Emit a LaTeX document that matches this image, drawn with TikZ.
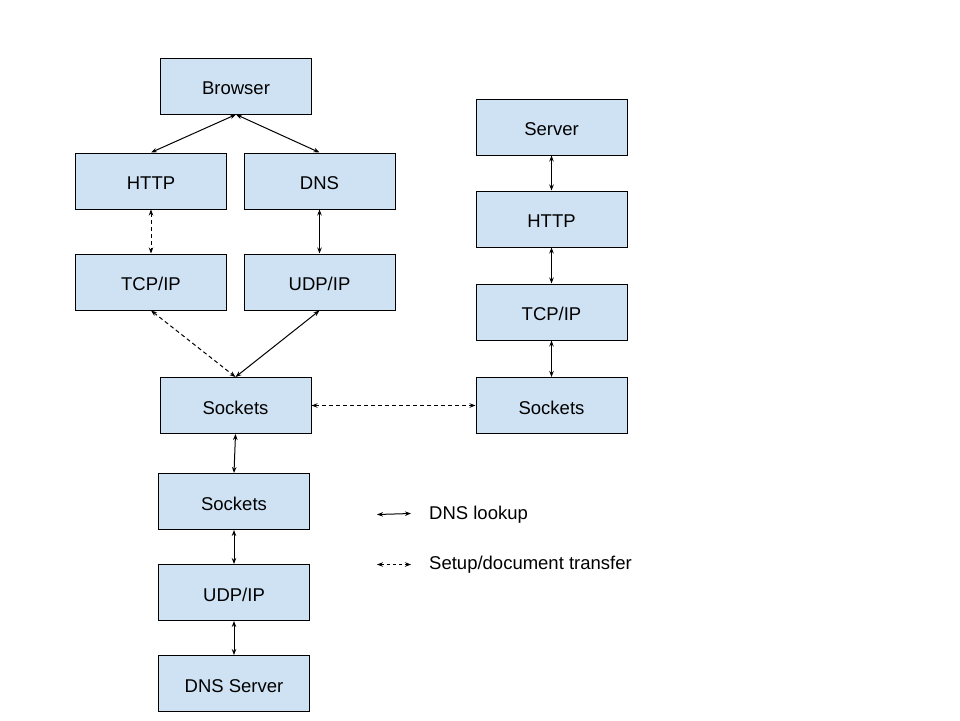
\documentclass[tikz,border=0pt]{standalone}
\usepackage{fontspec}
\setmainfont{Liberation Sans}
\usetikzlibrary{arrows.meta}
\definecolor{boxblue}{HTML}{CFE2F3}
\tikzset{
  layerbox/.style={draw=black, fill=boxblue, line width=1pt, minimum width=151pt, minimum height=56pt, inner sep=0pt, text height=18pt, text depth=1pt, font=\fontsize{18.5}{20}\selectfont},
  link/.style={line width=1pt, {Stealth[length=6pt,width=4.5pt]}-{Stealth[length=6pt,width=4.5pt]}},
  dlink/.style={link, dash pattern=on 4pt off 3pt},
  legtext/.style={anchor=west, inner sep=0pt, font=\fontsize{18.5}{20}\selectfont}
}
\begin{document}
\begin{tikzpicture}[x=1pt,y=-1pt]
\useasboundingbox (0,0) rectangle (960,720);
\node[layerbox] (browser) at (236,86) {Browser};
\node[layerbox] (httpL) at (151,181) {HTTP};
\node[layerbox] (dns) at (319.5,181) {DNS};
\node[layerbox] (tcpL) at (151,282) {TCP/IP};
\node[layerbox] (udpT) at (319.5,282) {UDP/IP};
\node[layerbox] (sockL) at (235.5,405.5) {Sockets};
\node[layerbox] (sock2) at (234,501.5) {Sockets};
\node[layerbox] (udpB) at (234,592.5) {UDP/IP};
\node[layerbox] (dnsS) at (234,683.5) {DNS Server};
\node[layerbox] (server) at (551.5,127) {Server};
\node[layerbox] (httpR) at (551.5,219) {HTTP};
\node[layerbox] (tcpR) at (551.5,312) {TCP/IP};
\node[layerbox] (sockR) at (551.5,405.5) {Sockets};

\draw[link] (browser.south) -- (httpL.north);
\draw[link] (browser.south) -- (dns.north);
\draw[dlink] (httpL.south) -- (tcpL.north);
\draw[link] (dns.south) -- (udpT.north);
\draw[dlink] (tcpL.south) -- (sockL.north);
\draw[link] (udpT.south) -- (sockL.north);
\draw[dlink] (sockL.east) -- (sockR.west);
\draw[link] (sockL.south) -- (sock2.north);
\draw[link] (sock2.south) -- (udpB.north);
\draw[link] (udpB.south) -- (dnsS.north);
\draw[link] (server.south) -- (httpR.north);
\draw[link] (httpR.south) -- (tcpR.north);
\draw[link] (tcpR.south) -- (sockR.north);

\coordinate (l1a) at (377,514.5);
\coordinate (l1b) at (411,513.5);
\coordinate (l2a) at (377,564.5);
\coordinate (l2b) at (411,564.5);
\draw[link] (l1a) -- (l1b);
\draw[dlink, dash pattern=on 3pt off 3pt] (l2a) -- (l2b);
\node[legtext] (t1) at (429,514.5) {DNS lookup};
\node[legtext] (t2) at (429,564.5) {Setup/document transfer};
\end{tikzpicture}
\end{document}
